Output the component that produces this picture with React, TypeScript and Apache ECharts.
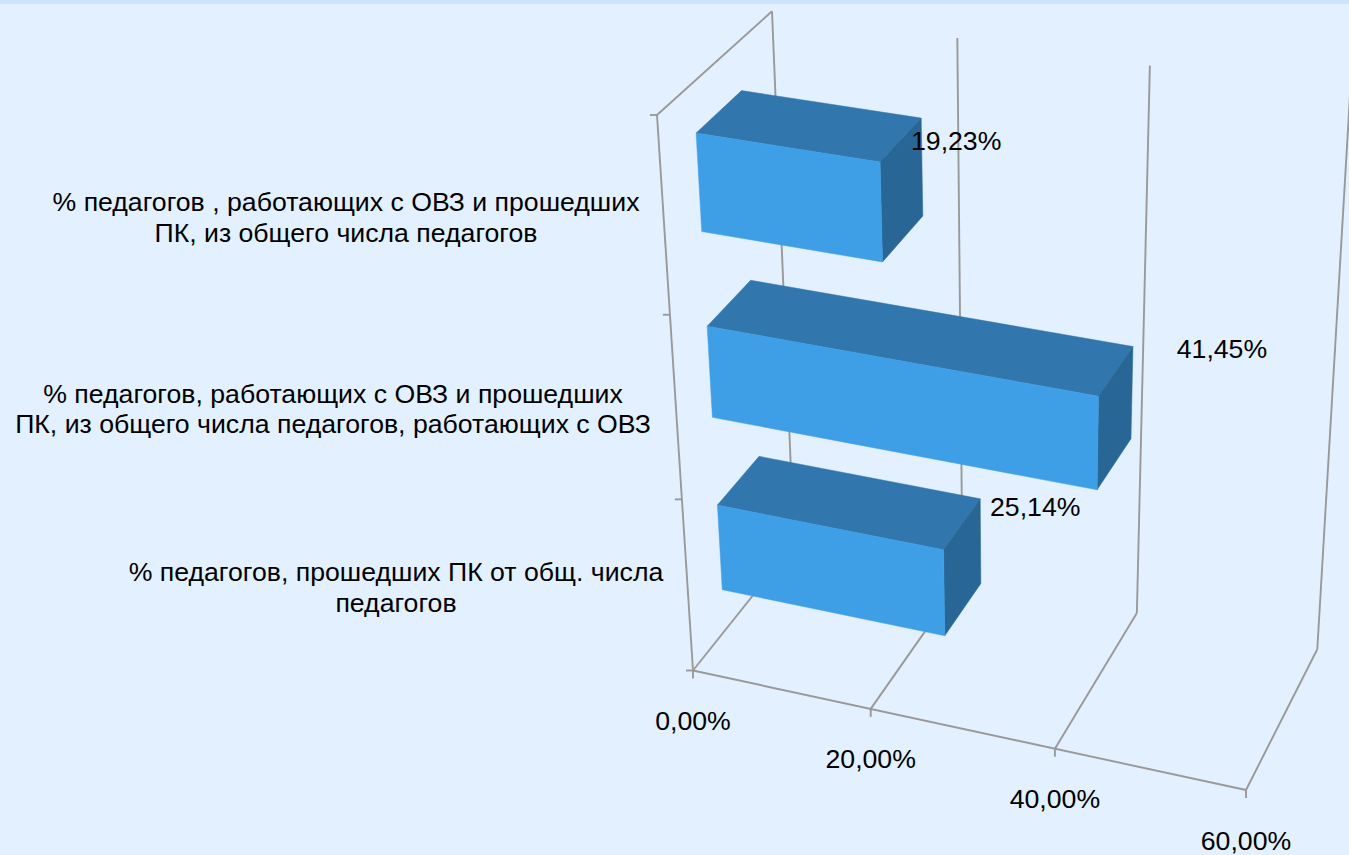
import React, { useEffect, useRef } from "react";
import * as echarts from "echarts";

const categories = [
  "% педагогов, прошедших ПК от общ. числа\nпедагогов",
  "% педагогов, работающих с ОВЗ и прошедших\nПК, из общего числа педагогов, работающих с ОВЗ",
  "% педагогов , работающих с ОВЗ и прошедших\nПК, из общего числа педагогов",
];
const values = [25.14, 41.45, 19.23];
const valueLabels = ["25,14%", "41,45%", "19,23%"];
const axisTicks = [0, 20, 40, 60];
const axisTickLabels = ["0,00%", "20,00%", "40,00%", "60,00%"];

const W = 1349;
const H = 855;
const AXIS_MAX = 60;

// Projective frame of the 3D box: origin, and the ends of the value, depth and height edges.
const O = [693, 670.5];
const X = [1246, 790];
const Y = [794, 544];
const Z = [657, 115];
const wX = 0.947;
const wY = 1.064;
const wZ = 0.8905;
const TOP_SHIFT = [7.5, 3.5];
const BAR_FRONT = 0.3;
const BAR_BACK = 0.7;

const project = (x: number, y: number, z: number): number[] => {
  const w = 1 + x * (wX - 1) + y * (wY - 1) + z * (wZ - 1);
  return [0, 1].map(
    (i) =>
      (O[i] + x * (wX * X[i] - O[i]) + y * (wY * Y[i] - O[i]) + z * (wZ * Z[i] - O[i])) / w -
      TOP_SHIFT[i] * x * z
  );
};

const LINE = "#999999";
const FRONT = "#3E9FE6";
const TOP = "#3177AE";
const SIDE = "#286696";
const FONT = '"Liberation Sans", Arial, sans-serif';
const FONT_SIZE = 26.67;

const categoryLabelAnchors = [
  [396, 587.5],
  [333, 409],
  [346, 217.5],
];
const dataLabelOffsets = [
  [55, 8.5],
  [89, 2.5],
  [35, 23],
];

const line = (a: number[], b: number[]) => ({
  type: "line",
  shape: { x1: a[0], y1: a[1], x2: b[0], y2: b[1] },
  style: { stroke: LINE, lineWidth: 1.9, fill: "none" },
  silent: true,
});
const poly = (pts: number[][], fill: string) => ({
  type: "polygon",
  shape: { points: pts },
  style: { fill, stroke: fill, lineWidth: 0.5 },
  silent: true,
});
const label = (text: string, x: number, y: number) => ({
  type: "text",
  style: {
    text,
    x,
    y,
    fill: "#000000",
    font: `${FONT_SIZE}px ${FONT}`,
    align: "center",
    verticalAlign: "middle",
    lineHeight: 30.5,
  },
  silent: true,
});

export default function App() {
  const ref = useRef<HTMLDivElement>(null);
  useEffect(() => {
    document.documentElement.style.overflow = "hidden";
    document.body.style.margin = "0";
    const chart = echarts.init(ref.current!, null, { renderer: "svg", width: W, height: H });

    const normX = (api: any, v: number) => api.coord([v, 0])[0] / W;
    const normZ = (api: any, c: number) => 1 - api.coord([0, c])[1] / H;

    chart.setOption({
      animation: false,
      backgroundColor: "#E3F0FF",
      tooltip: { show: false },
      grid: { left: 0, top: 0, width: W, height: H, containLabel: false, show: false },
      xAxis: { type: "value", min: 0, max: AXIS_MAX, interval: 20, show: false },
      yAxis: { type: "category", data: categories, show: false },
      graphic: [
        {
          type: "rect",
          shape: { x: 0, y: 0, width: W, height: 4 },
          style: { fill: "#CCE4FD" },
          silent: true,
        },
      ],
      series: [
        {
          // Value axis: floor lines, back-wall gridlines, ticks and tick labels
          type: "custom",
          silent: true,
          clip: false,
          data: axisTicks.map((v) => [v, 0]),
          renderItem: (params: any, api: any) => {
            const x = normX(api, api.value(0));
            const f = project(x, 0, 0);
            const b = project(x, 1, 0);
            const t = project(x, 1, 1);
            return {
              type: "group",
              children: [
                line(f, b),
                line(b, t),
                line(f, [f[0], f[1] + 8]),
                label(axisTickLabels[params.dataIndex], f[0], f[1] + 50.5),
              ],
            };
          },
        },
        {
          // Left wall and value axis line, ticks at the category boundaries
          type: "custom",
          silent: true,
          clip: false,
          data: [0, 1, 2, 3].map((i) => [0, i]),
          renderItem: (params: any, api: any) => {
            const z = api.value(1) / categories.length;
            const p = project(0, 0, z);
            const children: any[] = [line([p[0] - 7, p[1]], p)];
            if (params.dataIndex === 0) {
              children.push(line(project(0, 0, 0), project(0, 0, 1)));
              children.push(line(project(0, 0, 1), project(0, 1, 1)));
              children.push(line(project(0, 0, 0), project(1, 0, 0)));
            }
            return { type: "group", children };
          },
        },
        {
          // Bars
          type: "custom",
          silent: true,
          clip: false,
          data: values.map((v, i) => [v, i]),
          renderItem: (params: any, api: any) => {
            const i = params.dataIndex;
            const x = normX(api, api.value(0));
            const band = api.size([0, 1])[1] / H;
            const zc = normZ(api, api.value(1));
            const z0 = zc - band / 4;
            const z1 = zc + band / 4;
            const fTL = project(0, BAR_FRONT, z1);
            const fBL = project(0, BAR_FRONT, z0);
            const fTR = project(x, BAR_FRONT, z1);
            const fBR = project(x, BAR_FRONT, z0);
            const bTL = project(0, BAR_BACK, z1);
            const bTR = project(x, BAR_BACK, z1);
            const bBR = project(x, BAR_BACK, z0);
            return {
              type: "group",
              children: [
                poly([fTL, bTL, bTR, fTR], TOP),
                poly([fTR, bTR, bBR, fBR], SIDE),
                poly([fTL, fTR, fBR, fBL], FRONT),
                label(
                  valueLabels[i],
                  bTR[0] + dataLabelOffsets[i][0],
                  bTR[1] + dataLabelOffsets[i][1]
                ),
              ],
            };
          },
        },
        {
          // Category labels
          type: "custom",
          silent: true,
          clip: false,
          data: categories.map((_, i) => [0, i]),
          renderItem: (params: any) => {
            const i = params.dataIndex;
            return label(categories[i], categoryLabelAnchors[i][0], categoryLabelAnchors[i][1]);
          },
        },
      ],
    });
    return () => chart.dispose();
  }, []);
  return <div ref={ref} style={{ width: W, height: H }} />;
}
